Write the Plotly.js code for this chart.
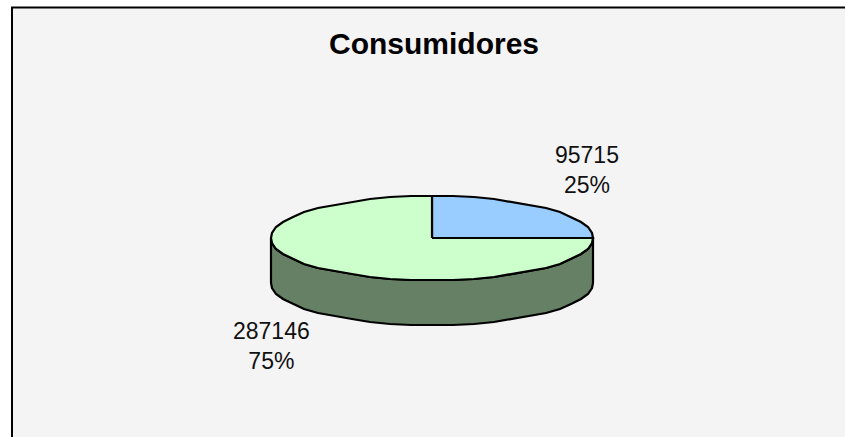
<!DOCTYPE html>
<html>
<head>
<meta charset="utf-8">
<script src="https://cdn.plot.ly/plotly-3.0.1.min.js"></script>
<style>
  html, body { margin: 0; padding: 0; background: #fff; overflow: hidden; }
  #chart { width: 845px; height: 437px; }
</style>
</head>
<body>
<div id="chart"></div>
<script>
const categories = ['A', 'B'];
const values = [95715, 287146];
const sliceColors = ['#99ccff', '#ccffcc'];
const sideColor = '#668066';
const chartTitle = 'Consumidores';

// the tilted pie: plotly pies stay round, so slices are filled scatter polygons
const cx = 432, cy = 238, rx = 161, ry = 42, depth = 45;
const stepDeg = 7.5;  // coarse rim, the original outline is visibly faceted

// angle is clockwise from 12 o'clock
function rimPoint(deg, drop) {
    const a = deg * Math.PI / 180;
    return [Math.round(cx + rx * Math.sin(a)), Math.round(cy - ry * Math.cos(a)) + drop];
}

function arc(fromDeg, toDeg, drop) {
    const pts = [];
    const n = Math.max(1, Math.round((toDeg - fromDeg) / stepDeg));
    for (let i = 0; i <= n; i++) {
        pts.push(rimPoint(fromDeg + (toDeg - fromDeg) * i / n, drop));
    }
    return pts;
}

function polygonTrace(pts, color) {
    return {
        x: pts.map(p => p[0]),
        y: pts.map(p => p[1]),
        mode: 'lines',
        type: 'scatter',
        fill: 'toself',
        fillcolor: color,
        line: {color: '#000', width: 2.2},
        hoverinfo: 'skip',
        showlegend: false
    };
}

const total = values.reduce((a, b) => a + b, 0);
const shares = values.map(v => v / total);

// front wall of the cylinder, right rim round to left rim
const wall = arc(90, 270, depth).concat(arc(90, 270, 0).reverse());
wall.push(wall[0]);
const traces = [polygonTrace(wall, sideColor)];

let start = 0;
shares.forEach((share, i) => {
    const end = start + share * 360;
    const pts = [[cx, cy]].concat(arc(start, end, 0));
    pts.push([cx, cy]);
    traces.push(polygonTrace(pts, sliceColors[i]));
    start = end;
});

const labelFont = {family: 'Liberation Sans, Arial, sans-serif', size: 23, color: '#111'};
const labelAt = [[587, 170], [271, 346]];
const annotations = values.map((v, i) => ({
    x: labelAt[i][0],
    y: labelAt[i][1],
    xref: 'x',
    yref: 'y',
    text: v + '<br>' + Math.round(shares[i] * 100) + '%',
    showarrow: false,
    align: 'center',
    font: labelFont
}));

const layout = {
    width: 845,
    height: 437,
    margin: {l: 0, r: 0, t: 0, b: 0},
    paper_bgcolor: '#ffffff',
    plot_bgcolor: '#ffffff',
    title: {
        text: '<b>' + chartTitle + '</b>',
        x: 434 / 845,
        xanchor: 'center',
        y: 1 - 43 / 437,
        yanchor: 'middle',
        font: {family: 'Liberation Sans, Arial, sans-serif', size: 30, color: '#000'}
    },
    xaxis: {range: [0, 845], visible: false, fixedrange: true},
    yaxis: {range: [437, 0], visible: false, fixedrange: true},
    annotations: annotations,
    shapes: [{
        type: 'rect',
        layer: 'below',
        xref: 'x', yref: 'y',
        x0: 12, x1: 860, y0: 7.6, y1: 450,
        fillcolor: '#f4f4f4',
        line: {color: '#000', width: 2}
    }]
};

Plotly.newPlot('chart', traces, layout, {displayModeBar: false, staticPlot: true});
</script>
</body>
</html>
